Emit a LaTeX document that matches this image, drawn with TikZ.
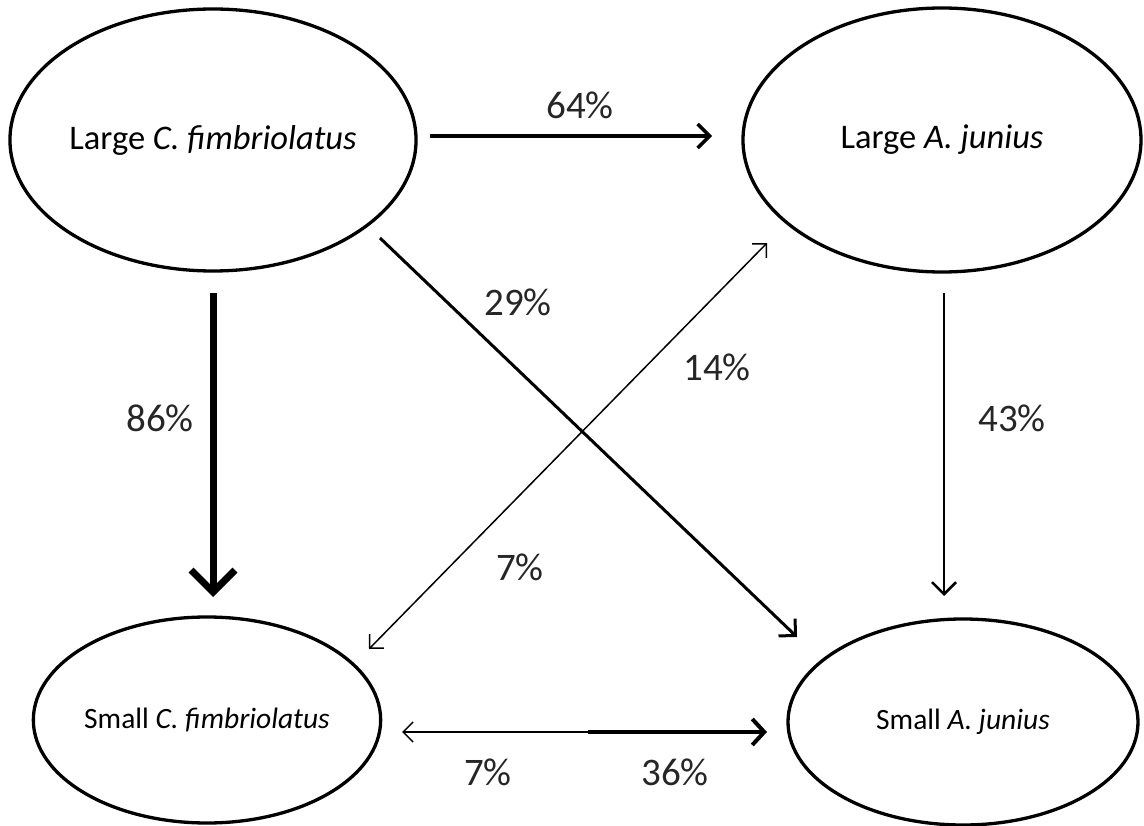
\documentclass[tikz,border=0pt]{standalone}
\usepackage{fontspec}
\setmainfont{Carlito}
\usetikzlibrary{shapes.geometric,arrows.meta}
\begin{document}
\begin{tikzpicture}[x=1pt,y=-1pt,
  oval/.style={draw,ellipse,line width=3.3pt,inner sep=0pt},
  bigtxt/.style={font=\fontsize{34.5}{40}\selectfont},
  smalltxt/.style={font=\fontsize{29.5}{34}\selectfont},
  pct/.style={font=\fontsize{39}{44}\selectfont,text=black!85,inner sep=0pt}]
\useasboundingbox (0,0) rectangle (1144,826);
% ellipses
\node[oval,bigtxt,minimum width=400pt,minimum height=262pt] (LC) at (213,140) {Large \textit{C. fimbriolatus}};
\node[oval,bigtxt,minimum width=398pt,minimum height=264pt] (LA) at (942,140) {Large \textit{A. junius}};
\node[oval,smalltxt,minimum width=347pt,minimum height=206pt] (SC) at (207,720) {Small \textit{C. fimbriolatus}};
\node[oval,smalltxt,minimum width=350pt,minimum height=206pt] (SA) at (963,722) {Small \textit{A. junius}};
% connector end points
\coordinate (c64s) at (430,136);
\coordinate (c64e) at (712,136);
\coordinate (c86s) at (213,293);
\coordinate (c86e) at (213,597);
\coordinate (c29s) at (380,238);
\coordinate (c29e) at (797,637);
\coordinate (c43s) at (944,293);
\coordinate (c43e) at (944,596);
\coordinate (cxA) at (767,243);
\coordinate (cxC) at (369,649);
\coordinate (cbL) at (402,732);
\coordinate (cbM) at (588,732);
\coordinate (cbR) at (767,732);
% connectors
\draw[line width=3.5pt,-{Straight Barb[length=12pt,width=24pt]}] (c64s) -- (c64e);
\draw[line width=7pt,-{Straight Barb[length=22pt,width=44pt]}] (c86s) -- (c86e);
\draw[line width=3pt,-{Straight Barb[length=12pt,width=24pt]}] (c29s) -- (c29e);
\draw[line width=2.5pt,-{Straight Barb[length=12pt,width=24pt]}] (c43s) -- (c43e);
\draw[line width=1.5pt,{Straight Barb[length=10pt,width=20pt]}-{Straight Barb[length=10pt,width=20pt]}] (cxC) -- (cxA);
\draw[line width=1.5pt,-{Straight Barb[length=10pt,width=20pt]}] (cbM) -- (cbL);
\draw[line width=4pt,-{Straight Barb[length=12pt,width=26pt]}] (cbM) -- (cbR);
% labels
\node[pct] (l64) at (580,105) {64\%};
\node[pct] (l86) at (160,418) {86\%};
\node[pct] (l29) at (518,302) {29\%};
\node[pct] (l14) at (717,367) {14\%};
\node[pct] (l7a) at (520,567) {7\%};
\node[pct] (l43) at (1012,418) {43\%};
\node[pct] (l7b) at (488,772) {7\%};
\node[pct] (l36) at (675,772) {36\%};
\end{tikzpicture}
\end{document}
